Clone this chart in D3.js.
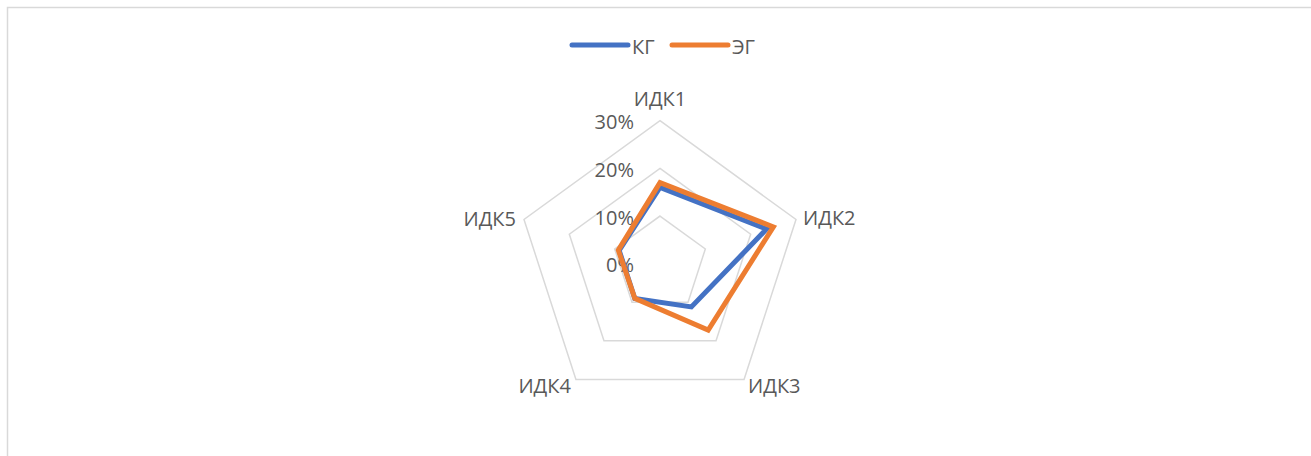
<!DOCTYPE html>
<html>
<head>
<meta charset="utf-8">
<script src="https://cdn.jsdelivr.net/npm/d3@7/dist/d3.min.js"></script>
<style>
  html, body { margin: 0; padding: 0; background: #fff; }
  svg { display: block; }
  text { font-family: "Open Sans", "Noto Sans", sans-serif; fill: #595959; }
</style>
</head>
<body>
<svg id="chart" width="1311" height="456"></svg>
<script>
// Radar chart: share of students per indicator, control vs experimental group
const axes = ["ИДК1", "ИДК2", "ИДК3", "ИДК4", "ИДК5"];
const seriesNames = ["КГ", "ЭГ"];
const kgValues = [0.16, 0.235, 0.112, 0.09, 0.09];
const egValues = [0.17, 0.25, 0.172, 0.09, 0.092];
const tickValues = [0, 0.1, 0.2, 0.3];
const tickLabels = ["0%", "10%", "20%", "30%"];
const colors = ["#4472C4", "#ED7D31"];

const svg = d3.select("#chart");
const cx = 660, cy = 263.7, R = 143;
const fontSize = "20px";

// chart frame
svg.append("rect")
  .attr("x", 7.5).attr("y", 7.5)
  .attr("width", 1320).attr("height", 460)
  .attr("fill", "none").attr("stroke", "#D9D9D9").attr("stroke-width", 1.5);

const r = d3.scaleLinear().domain([0, 0.3]).range([0, R]);
const angle = d3.scalePoint().domain(axes).range([0, 2 * Math.PI * (axes.length - 1) / axes.length]);

const pt = (a, v) => [cx + r(v) * Math.sin(angle(a)), cy - r(v) * Math.cos(angle(a))];

// concentric grid pentagons
const gridLine = d3.line().curve(d3.curveLinearClosed);
svg.append("g").selectAll("path")
  .data(tickValues.slice(1))
  .join("path")
  .attr("d", t => gridLine(axes.map(a => pt(a, t))))
  .attr("fill", "none")
  .attr("stroke", "#D9D9D9")
  .attr("stroke-width", 1.5);

// scale labels along the first spoke
svg.append("g").selectAll("text")
  .data(tickValues)
  .join("text")
  .attr("x", cx - 26)
  .attr("y", t => cy - r(t) + 1)
  .attr("text-anchor", "end")
  .attr("dominant-baseline", "central")
  .style("font-size", fontSize)
  .text((t, i) => tickLabels[i]);

// category labels
const labelPos = {
  "ИДК1": { dx: 0, dy: -22, anchor: "middle" },
  "ИДК2": { dx: 7, dy: -2, anchor: "start" },
  "ИДК3": { dx: 4, dy: 6, anchor: "start" },
  "ИДК4": { dx: -5, dy: 6, anchor: "end" },
  "ИДК5": { dx: -8, dy: -1, anchor: "end" }
};
svg.append("g").selectAll("text")
  .data(axes)
  .join("text")
  .attr("x", a => pt(a, 0.3)[0] + labelPos[a].dx)
  .attr("y", a => pt(a, 0.3)[1] + labelPos[a].dy)
  .attr("text-anchor", a => labelPos[a].anchor)
  .attr("dominant-baseline", "central")
  .style("font-size", fontSize)
  .text(a => a);

// data polygons
const seriesData = [kgValues, egValues];
svg.append("g").selectAll("path")
  .data(seriesData)
  .join("path")
  .attr("d", vals => gridLine(axes.map((a, i) => pt(a, vals[i]))))
  .attr("fill", "none")
  .attr("stroke", (d, i) => colors[i])
  .attr("stroke-width", 5)
  .attr("stroke-linejoin", "miter");

// legend
const legendX = [572, 672];
const lg = svg.append("g").selectAll("g")
  .data(seriesNames)
  .join("g")
  .attr("transform", (d, i) => `translate(${legendX[i]},45)`);
lg.append("line")
  .attr("x1", 0).attr("x2", 56).attr("y1", 0).attr("y2", 0)
  .attr("stroke", (d, i) => colors[i])
  .attr("stroke-width", 5)
  .attr("stroke-linecap", "round");
lg.append("text")
  .attr("x", 60).attr("y", 1)
  .attr("dominant-baseline", "central")
  .style("font-size", fontSize)
  .text(d => d);
</script>
</body>
</html>
